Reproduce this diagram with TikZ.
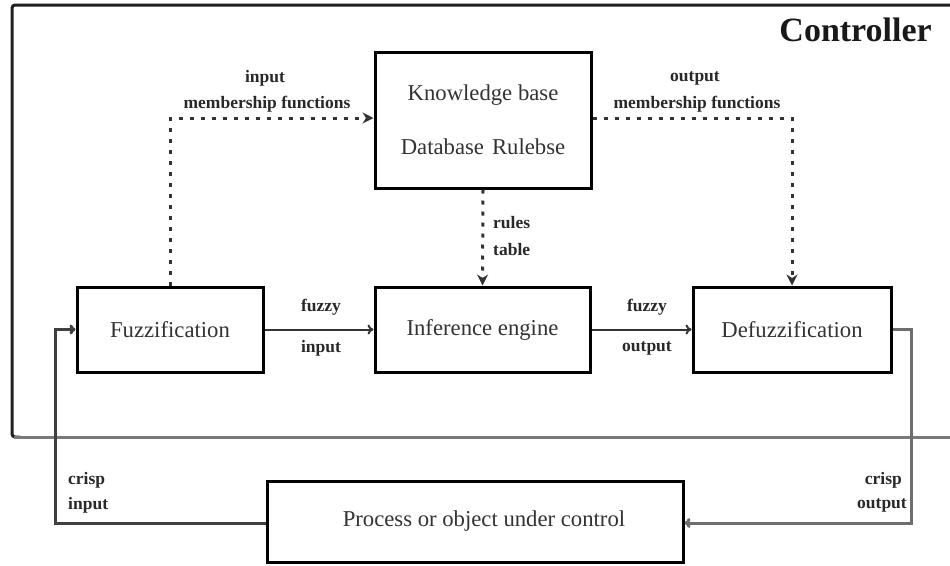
\documentclass[tikz,border=0pt]{standalone}
\usepackage{fontspec}
\setmainfont{Liberation Serif}
\usetikzlibrary{arrows.meta}
\definecolor{txt}{HTML}{333333}
\definecolor{fbgray}{HTML}{6E6E6E}
\definecolor{framebot}{HTML}{7A7A7A}
\begin{document}
\begin{tikzpicture}[x=1pt,y=-1pt,
  box/.style={draw=black, line width=3pt, inner sep=0pt, align=center,
    font=\fontsize{22.7}{27}\selectfont, text=txt},
  lbl/.style={font=\bfseries\fontsize{17.5}{20}\selectfont, text=txt!80!black, inner sep=0pt},
  dots/.style={line width=3pt, dash pattern=on 4pt off 7pt, color=black!80},
  fb/.style={line width=3pt, color=fbgray},
  flow/.style={line width=2pt, color=black!80, -{To[length=6pt,width=10pt]}}
]
\useasboundingbox (0,0) rectangle (950,565);
\fill[white] (0,0) rectangle (950,565);

% controller frame
\draw[line width=3pt, color=black!88, rounded corners=3pt] (952,5) -- (12,5) -- (12,437) -- (20,437);
\draw[line width=3pt, color=framebot] (14,437) -- (952,437);
\node[font=\bfseries\fontsize{34}{40}\selectfont, text=black!90, anchor=east, inner sep=0pt] (ctl) at (932,30) {Controller};

% boxes
\node[box, minimum width=216pt, minimum height=136pt, font=\fontsize{22.7}{54}\selectfont] (kb) at (483,120)
  {Knowledge base\\Database\hspace{8pt}Rulebse};
\node[box, minimum width=186pt, minimum height=85pt] (fuz) at (170,329.5) {Fuzzification};
\node[box, minimum width=215pt, minimum height=85pt] (inf) at (482.5,329.5) {Inference engine};
\node[box, minimum width=198pt, minimum height=85pt] (dfz) at (792,329.5) {Defuzzification};
\node[box, minimum width=416pt, minimum height=81pt] (proc) at (475,521.5) {\hspace*{18pt}Process or object under control};

% dotted connectors
\draw[dots, -{Stealth[length=11pt,width=11pt]}] (fuz.north) |- ([yshift=2pt]kb.west);
\draw[dots, -{Stealth[length=11pt,width=11pt]}] ([yshift=2pt]kb.east) -| (dfz.north);
\draw[dots, -{Stealth[length=11pt,width=11pt]}] (kb.south) -- (inf.north);

% solid connectors
\draw[flow] (fuz.east) -- (inf.west);
\draw[flow] (inf.east) -- (dfz.west);
\draw[fb, -{To[length=6pt,width=10pt]}] (dfz.east) -- ++(19,0) |- ([yshift=-1.5pt]proc.east);
\draw[fb, -{To[length=6pt,width=10pt]}, color=black!75] ([yshift=-1.5pt]proc.west) -- ++(-210,0) |- (fuz.west);

% labels
\node[lbl] (l1) at (265,78) {input};
\node[lbl] (l2) at (267,104) {membership functions};
\node[lbl] (l3) at (695,78) {output};
\node[lbl] (l4) at (697,104) {membership functions};
\node[lbl, anchor=west] (l5) at (493,223) {rules};
\node[lbl, anchor=west] (l6) at (493,250) {table};
\node[lbl] (l7) at (321,307) {fuzzy};
\node[lbl] (l8) at (321,348) {input};
\node[lbl] (l9) at (647,307) {fuzzy};
\node[lbl] (l10) at (647,348) {output};
\node[lbl, anchor=west] (l11) at (68,480) {crisp};
\node[lbl, anchor=west] (l12) at (68,505) {input};
\node[lbl, anchor=east] (l13) at (902,480) {crisp};
\node[lbl, anchor=east] (l14) at (907,505) {output};
\end{tikzpicture}
\end{document}
